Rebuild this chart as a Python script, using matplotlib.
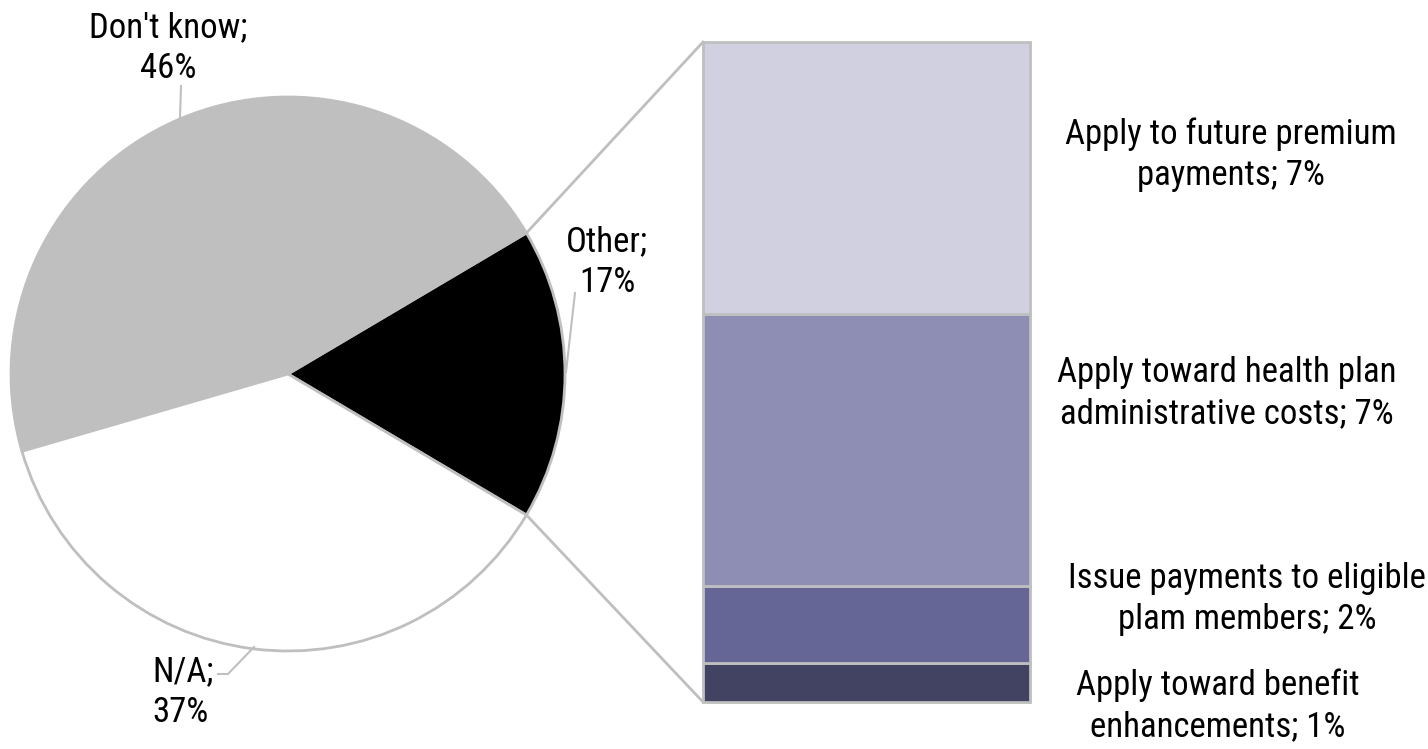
import matplotlib
matplotlib.use("Agg")
import matplotlib.pyplot as plt
import numpy as np

# ---- data ----
pie_labels = ["Other", "Don't know", "N/A"]
pie_values = [17, 46, 37]
pie_colors = ["#000000", "#BFBFBF", "#FFFFFF"]

bar_labels = ["Apply toward benefit\nenhancements", "Issue payments to eligible\nplam members",
              "Apply toward health plan\nadministrative costs", "Apply to future premium\npayments"]
bar_values = [1, 2, 7, 7]
bar_colors = ["#424262", "#666696", "#8E8EB4", "#D0D0E0"]

plt.rcParams['font.family'] = ['Roboto Condensed', 'Liberation Sans', 'DejaVu Sans']

W, H = 1428, 749
fig = plt.figure(figsize=(W / 100, H / 100), dpi=100)
ax = fig.add_axes([0, 0, 1, 1])

edge = "#BFBFBF"
fs = 25
ls = 1.3

# pie
cx, cy, r = 288, 375, 277
start = -pie_values[0] / 100 * 360 / 2
ax.pie(pie_values, colors=pie_colors, startangle=start, counterclock=True,
       center=(cx, cy), radius=r, frame=True,
       wedgeprops=dict(edgecolor=edge, linewidth=2))
ax.set_xlim(0, W)
ax.set_ylim(0, H)
ax.set_aspect('equal')
ax.axis('off')

# bar of pie
bx0, bx1 = 703, 1030
by0, by1 = 47, 707
scale = (by1 - by0) / sum(bar_values)
bottom = by0
for v, c in zip(bar_values, bar_colors):
    ax.bar((bx0 + bx1) / 2, v * scale, width=bx1 - bx0, bottom=bottom, color=c,
           edgecolor=edge, linewidth=2, zorder=3)
    bottom += v * scale

# connector lines
a1 = np.deg2rad(start + pie_values[0] / 100 * 360)
a0 = np.deg2rad(start)
ax.plot([cx + r * np.cos(a1), bx0], [cy + r * np.sin(a1), by1], color=edge, lw=2, zorder=2)
ax.plot([cx + r * np.cos(a0), bx0], [cy + r * np.sin(a0), by0], color=edge, lw=2, zorder=2)

# pie labels
ax.text(168, H - 48, "Don't know;\n46%", ha='center', va='center', fontsize=fs, linespacing=ls)
ax.plot([181, 180], [H - 86, H - 118], color=edge, lw=1.5)
ax.text(607, H - 262, "Other;\n17%", ha='center', va='center', fontsize=fs, linespacing=ls)
ax.plot([575, 566], [H - 293, H - 372], color=edge, lw=1.5)
ax.text(152, H - 692, "N/A;\n37%", ha='left', va='center', fontsize=fs, linespacing=ls)
ax.plot([218, 228, 254], [H - 674, H - 674, H - 647], color=edge, lw=1.5)

# bar labels
label_pos = [(1218, H - 706), (1247, H - 599), (1227, H - 393), (1231, H - 155)]
for (x, y), lab, v in zip(label_pos, bar_labels, bar_values):
    ax.text(x, y, f"{lab}; {v}%", ha='center', va='center', fontsize=fs, linespacing=ls)

fig.savefig("out.png", dpi=100)
